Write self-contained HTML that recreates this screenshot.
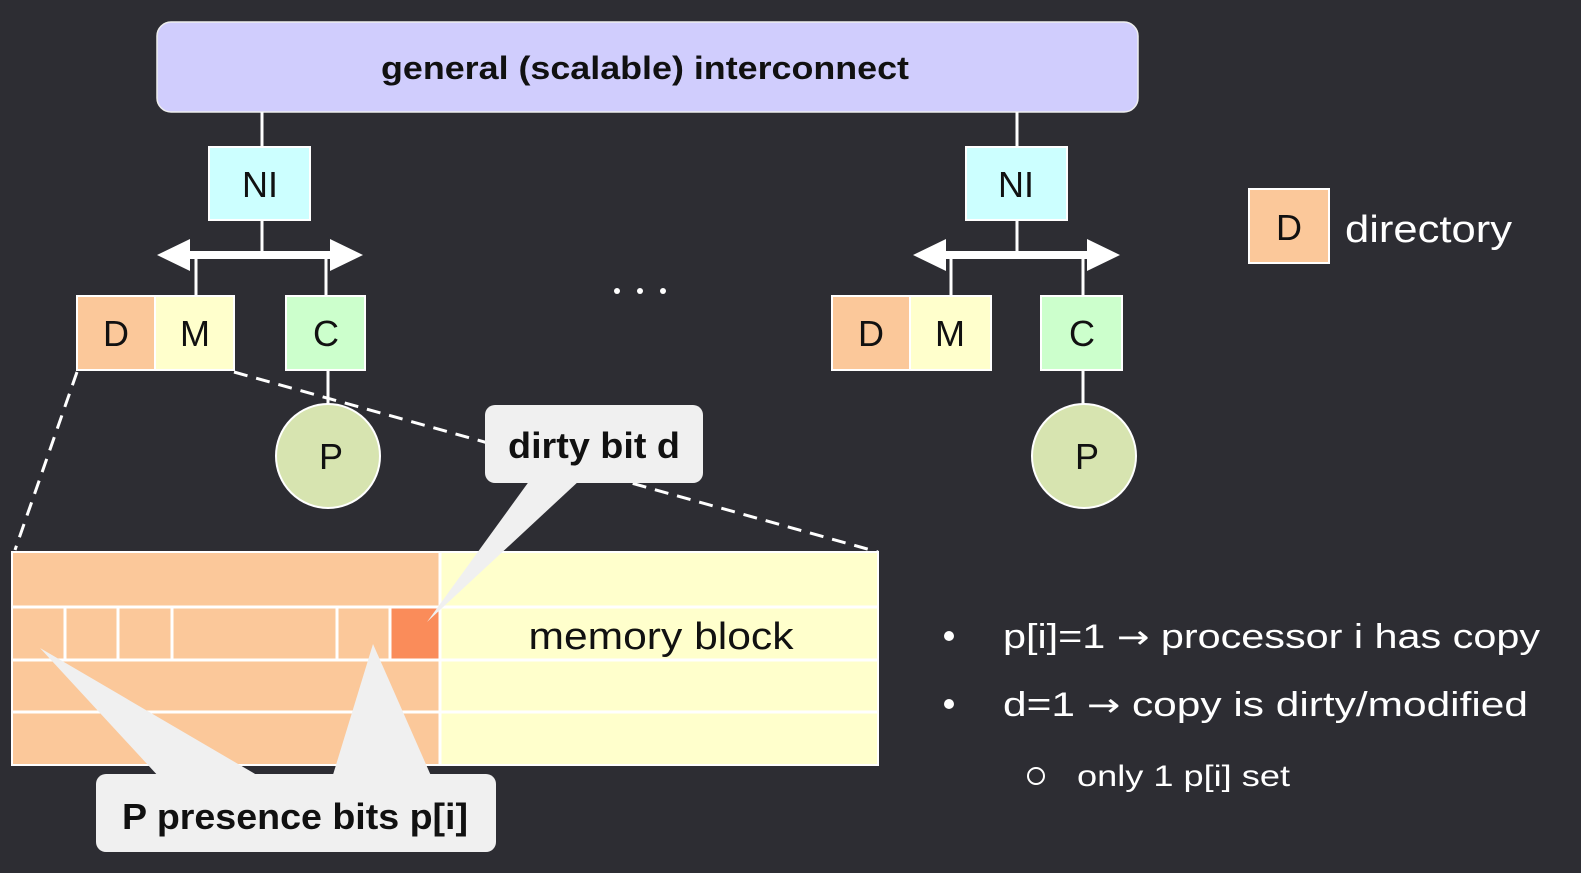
<!DOCTYPE html>
<html><head><meta charset="utf-8"><style>
html,body{margin:0;padding:0;background:#2d2d33;}
svg{display:block;}
text{font-family:"Liberation Sans",sans-serif;}
</style></head><body>
<svg width="1581" height="873" viewBox="0 0 1581 873" xmlns="http://www.w3.org/2000/svg">
<rect width="1581" height="873" fill="#2d2d33"/>
<rect x="157" y="22" width="981" height="90" rx="14" fill="#d0cdfd" stroke="#eee" stroke-width="1.5"/>
<text x="645" y="79" font-size="32" font-weight="bold" text-anchor="middle" textLength="528" lengthAdjust="spacingAndGlyphs" fill="#111">general (scalable) interconnect</text>

<g stroke="#fff" stroke-width="3" fill="none">
<line x1="262" y1="112" x2="262" y2="147"/><line x1="1017" y1="112" x2="1017" y2="147"/>
<line x1="262" y1="220" x2="262" y2="255"/><line x1="1017" y1="220" x2="1017" y2="255"/>
<line x1="196" y1="255" x2="196" y2="296"/><line x1="326" y1="255" x2="326" y2="296"/>
<line x1="951" y1="255" x2="951" y2="296"/><line x1="1083" y1="255" x2="1083" y2="296"/>
<line x1="328" y1="370" x2="328" y2="404"/><line x1="1083" y1="370" x2="1083" y2="404"/>
</g>
<g fill="#fff">
<polygon points="157,255 190,239 190,251 330,251 330,239 363,255 330,271 330,259 190,259 190,271"/>
<polygon points="913,255 946,239 946,251 1087,251 1087,239 1120,255 1087,271 1087,259 946,259 946,271"/>
</g>
<g stroke="#fff" stroke-width="2">
<rect x="209" y="147" width="101" height="73" fill="#ccffff"/>
<rect x="966" y="147" width="101" height="73" fill="#ccffff"/>
<rect x="77" y="296" width="78" height="74" fill="#fbc89a"/>
<rect x="155" y="296" width="79" height="74" fill="#ffffcc"/>
<rect x="286" y="296" width="79" height="74" fill="#ccffcc"/>
<rect x="832" y="296" width="78" height="74" fill="#fbc89a"/>
<rect x="910" y="296" width="81" height="74" fill="#ffffcc"/>
<rect x="1041" y="296" width="81" height="74" fill="#ccffcc"/>
<rect x="1249" y="189" width="80" height="74" fill="#fbc89a"/>
<ellipse cx="328" cy="456" rx="52" ry="52" fill="#d7e4b0"/>
<ellipse cx="1084" cy="456" rx="52" ry="52" fill="#d7e4b0"/>
</g>
<g font-size="36" fill="#111" text-anchor="middle">
<text x="260" y="197">NI</text><text x="1016" y="197">NI</text>
<text x="116" y="346">D</text><text x="195" y="346">M</text><text x="326" y="346">C</text>
<text x="871" y="346">D</text><text x="950" y="346">M</text><text x="1082" y="346">C</text>
<text x="1289" y="240">D</text>
<text x="331" y="469">P</text><text x="1087" y="469">P</text>
</g>
<g fill="#fff"><circle cx="617" cy="291" r="3"/><circle cx="640" cy="291" r="3"/><circle cx="663" cy="291" r="3"/></g>
<text x="1345" y="242" font-size="38" fill="#fff" textLength="167" lengthAdjust="spacingAndGlyphs">directory</text>

<g stroke="#fff" stroke-width="3" stroke-dasharray="14,9">
<line x1="77" y1="372" x2="15" y2="550"/>
<line x1="234" y1="372" x2="878" y2="552"/>
</g>

<rect x="12" y="552" width="428" height="213" fill="#fbc89a"/>
<rect x="440" y="552" width="438" height="213" fill="#ffffcc"/>
<rect x="390" y="607" width="50" height="53" fill="#fa8c5a"/>
<g stroke="#fff" stroke-width="3">
<rect x="12" y="552" width="866" height="213" fill="none" stroke-width="2"/>
<line x1="12" y1="607" x2="878" y2="607"/>
<line x1="12" y1="660" x2="878" y2="660"/>
<line x1="12" y1="712" x2="878" y2="712"/>
<line x1="440" y1="552" x2="440" y2="765"/>
<line x1="65" y1="607" x2="65" y2="660"/><line x1="118" y1="607" x2="118" y2="660"/>
<line x1="172" y1="607" x2="172" y2="660"/><line x1="337" y1="607" x2="337" y2="660"/>
<line x1="390" y1="607" x2="390" y2="660"/>
</g>
<text x="661" y="649" font-size="38" fill="#111" text-anchor="middle" textLength="265" lengthAdjust="spacingAndGlyphs">memory block</text>

<g fill="#f0f0f0">
<rect x="485" y="405" width="218" height="78" rx="10"/>
<polygon points="530,480 580,480 427,622"/>
<rect x="96" y="774" width="400" height="78" rx="10"/>
<polygon points="40,648 160,778 262,778"/>
<polygon points="373,644 332,778 432,778"/>
</g>
<text x="594" y="458" font-size="36" font-weight="bold" fill="#111" text-anchor="middle" textLength="172" lengthAdjust="spacingAndGlyphs">dirty bit d</text>
<text x="295" y="829" font-size="36" font-weight="bold" fill="#111" text-anchor="middle" textLength="346" lengthAdjust="spacingAndGlyphs">P presence bits p[i]</text>

<g fill="#fff">
<circle cx="949" cy="636" r="5"/>
<text x="1003" y="648" font-size="34" textLength="537" lengthAdjust="spacingAndGlyphs">p[i]=1 <tspan font-family="DejaVu Sans" font-size="32">→</tspan> processor i has copy</text>
<circle cx="949" cy="704" r="5"/>
<text x="1003" y="716" font-size="34" textLength="525" lengthAdjust="spacingAndGlyphs">d=1 <tspan font-family="DejaVu Sans" font-size="32">→</tspan> copy is dirty/modified</text>
<circle cx="1036" cy="776" r="8" fill="none" stroke="#fff" stroke-width="2"/>
<text x="1077" y="786" font-size="30" textLength="213" lengthAdjust="spacingAndGlyphs">only 1 p[i] set</text>
</g>
</svg>
</body></html>
